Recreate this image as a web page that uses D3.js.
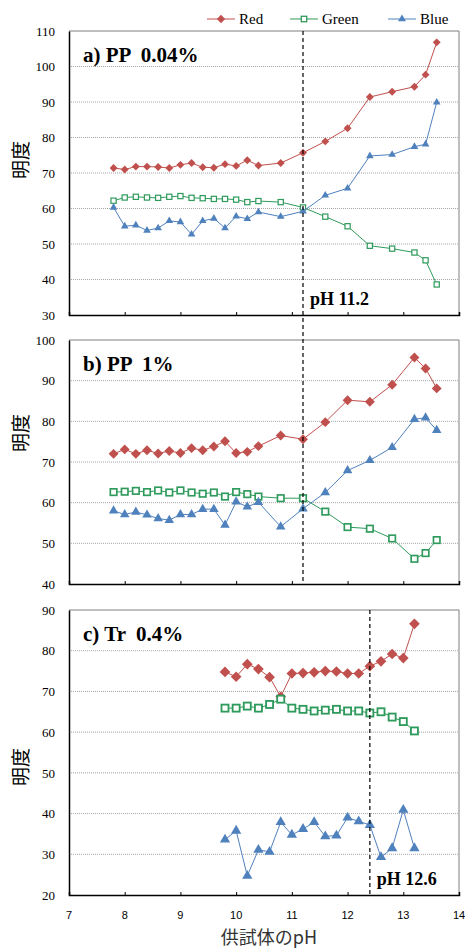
<!DOCTYPE html>
<html>
<head>
<meta charset="utf-8">
<script src="https://cdn.jsdelivr.net/npm/d3@7"></script>
<style>
  body { margin: 0; background: #fff; }
</style>
</head>
<body>
<script>
// pH of the specimens
var phAB = [7.8, 8.0, 8.2, 8.4, 8.6, 8.8, 9.0, 9.2, 9.4, 9.6, 9.8, 10.0, 10.2, 10.4, 10.8, 11.2, 11.6, 12.0, 12.4, 12.8, 13.2, 13.4, 13.6];
var phC = [9.8, 10.0, 10.2, 10.4, 10.6, 10.8, 11.0, 11.2, 11.4, 11.6, 11.8, 12.0, 12.2, 12.4, 12.6, 12.8, 13.0, 13.2];

// a) PP 0.04%
var redA = [71.4, 71.0, 71.8, 71.8, 71.7, 71.4, 72.3, 72.8, 71.6, 71.5, 72.5, 72.0, 73.6, 72.1, 72.8, 75.7, 78.9, 82.6, 91.4, 92.9, 94.3, 97.7, 106.8];
var greenA = [62.2, 63.1, 63.3, 63.1, 63.0, 63.3, 63.5, 63.0, 62.9, 62.7, 62.7, 62.5, 61.8, 62.1, 61.8, 60.3, 57.7, 55.0, 49.5, 48.7, 47.6, 45.4, 38.6];
var blueA = [60.3, 55.0, 55.3, 53.8, 54.5, 56.5, 56.2, 52.7, 56.5, 57.2, 54.5, 57.8, 57.1, 59.0, 57.7, 59.2, 63.7, 65.7, 74.8, 75.2, 77.4, 78.1, 89.9];

// b) PP 1%
var redB = [72.0, 73.1, 72.0, 72.9, 72.1, 72.7, 72.2, 73.4, 72.9, 73.8, 75.1, 72.2, 72.5, 73.9, 76.5, 75.6, 79.8, 85.2, 84.8, 89.0, 95.7, 93.0, 88.1];
var greenB = [62.6, 62.7, 62.9, 62.6, 63.0, 62.5, 63.0, 62.5, 62.2, 62.5, 61.5, 62.6, 62.1, 61.5, 61.1, 61.1, 57.8, 54.0, 53.6, 51.2, 46.2, 47.6, 50.8];
var blueB = [58.0, 57.1, 57.7, 57.0, 56.1, 55.7, 57.1, 57.1, 58.4, 58.4, 54.5, 60.2, 59.0, 60.1, 54.1, 58.5, 62.5, 67.9, 70.4, 73.6, 80.5, 80.9, 77.8];

// c) Tr 0.4%
var redC = [74.8, 73.6, 76.7, 75.5, 73.5, 68.7, 74.4, 74.5, 74.7, 75.0, 74.9, 74.4, 74.4, 76.2, 77.4, 79.2, 78.2, 86.6];
var greenC = [65.9, 65.9, 66.4, 65.9, 66.8, 68.1, 65.9, 65.6, 65.2, 65.4, 65.6, 65.2, 65.2, 64.7, 65.0, 63.7, 62.6, 60.3];
var blueC = [33.6, 35.8, 24.7, 31.1, 30.6, 37.9, 34.8, 36.2, 37.9, 34.4, 34.6, 39.0, 38.1, 37.2, 29.3, 31.5, 40.9, 31.5];

var xTicks = [7, 8, 9, 10, 11, 12, 13, 14];
var yTicksA = [30, 40, 50, 60, 70, 80, 90, 100, 110];
var yTicksB = [40, 50, 60, 70, 80, 90, 100];
var yTicksC = [20, 30, 40, 50, 60, 70, 80, 90];
var seriesNames = ["Red", "Green", "Blue"];

var colors = {Red: "#c0504d", Green: "#2e9a5b", Blue: "#4f81bd"};
var serif = "'Liberation Serif', 'Times New Roman', serif";
var sans = "'Liberation Sans', Arial, sans-serif";
var cjk = "'Noto Sans CJK JP', sans-serif";

var W = 465, H = 948;
var left = 69, right = 459;

var svg = d3.select("body").append("svg")
  .attr("width", W)
  .attr("height", H);

var x = d3.scaleLinear().domain([7, 14]).range([left, right]);

var panels = [
  {title: "a) PP  0.04%", top: 31, bottom: 315, ticks: yTicksA, ph: phAB,
   data: {Red: redA, Green: greenA, Blue: blueA}, mk: 1, labelY: 160},
  {title: "b) PP  1%", top: 340, bottom: 584, ticks: yTicksB, ph: phAB,
   data: {Red: redB, Green: greenB, Blue: blueB}, mk: 1.25, labelY: 433},
  {title: "c) Tr  0.4%", top: 610, bottom: 895, ticks: yTicksC, ph: phC,
   data: {Red: redC, Green: greenC, Blue: blueC}, mk: 1.35, labelY: 767}
];

function marker(g, name, cx, cy, k) {
  if (name === "Red") {
    var s = 5.6 * k;
    g.append("rect")
      .attr("x", -s / 2).attr("y", -s / 2)
      .attr("width", s).attr("height", s)
      .attr("transform", "translate(" + cx + "," + cy + ") rotate(45)")
      .attr("fill", colors.Red);
  } else if (name === "Green") {
    var q = 5.2 * k;
    g.append("rect")
      .attr("x", cx - q / 2).attr("y", cy - q / 2)
      .attr("width", q).attr("height", q)
      .attr("fill", "#fff")
      .attr("stroke", colors.Green)
      .attr("stroke-width", 1.2 + 0.6 * (k - 1) * 3);
  } else {
    var t = 7.6 * k;
    var h = t * Math.sqrt(3) / 2;
    g.append("path")
      .attr("d", "M" + cx + "," + (cy - h * 2 / 3) +
                 "L" + (cx + t / 2) + "," + (cy + h / 3) +
                 "L" + (cx - t / 2) + "," + (cy + h / 3) + "Z")
      .attr("fill", colors.Blue);
  }
}

panels.forEach(function(p) {
  var y = d3.scaleLinear()
    .domain([p.ticks[0], p.ticks[p.ticks.length - 1]])
    .range([p.bottom, p.top]);

  var g = svg.append("g");

  // grid
  g.selectAll(".grid")
    .data(p.ticks.slice(1, -1))
    .enter().append("line")
    .attr("x1", left).attr("x2", right)
    .attr("y1", function(d) { return y(d); })
    .attr("y2", function(d) { return y(d); })
    .attr("stroke", "#a6a6a6")
    .attr("stroke-width", 1)
    .attr("stroke-dasharray", "1,1");

  // frame: top/right light, left/bottom dark
  g.append("path")
    .attr("d", "M" + left + "," + p.top + "H" + right + "V" + p.bottom)
    .attr("fill", "none")
    .attr("stroke", "#7f7f7f")
    .attr("stroke-width", 1);

  var yAxis = g.append("g")
    .attr("transform", "translate(" + left + ",0)")
    .call(d3.axisLeft(y).tickValues(p.ticks).tickSize(0).tickPadding(14).tickFormat(d3.format("d")));
  yAxis.select(".domain").attr("stroke", "#000").attr("stroke-width", 1.5);
  yAxis.selectAll("text")
    .attr("font-family", serif)
    .attr("font-size", 13)
    .attr("fill", "#000");

  var xAxis = g.append("g")
    .attr("transform", "translate(0," + p.bottom + ")")
    .call(d3.axisTop(x).tickValues(xTicks).tickSize(3).tickFormat(""));
  xAxis.select(".domain").attr("stroke", "#000").attr("stroke-width", 1.5);
  xAxis.selectAll(".tick line").attr("stroke", "#000");

  // y title
  g.append("text")
    .attr("transform", "translate(" + 28 + "," + p.labelY + ") rotate(-90)")
    .attr("text-anchor", "middle")
    .attr("font-family", cjk)
    .attr("font-size", 19)
    .attr("fill", "#000")
    .text("明度");

  // series
  seriesNames.forEach(function(name) {
    var vals = p.data[name];
    var pts = vals.map(function(v, i) { return [p.ph[i], v]; });
    var line = d3.line()
      .x(function(d) { return x(d[0]); })
      .y(function(d) { return y(d[1]); });
    g.append("path")
      .datum(pts)
      .attr("d", line)
      .attr("fill", "none")
      .attr("stroke", colors[name])
      .attr("stroke-width", 1);
    var mg = g.append("g");
    pts.forEach(function(d) { marker(mg, name, x(d[0]), y(d[1]), p.mk); });
  });

  // title
  g.append("text")
    .attr("x", 83).attr("y", p.top + 31)
    .attr("font-family", serif)
    .attr("font-weight", "bold")
    .attr("font-size", 21)
    .attr("fill", "#000")
    .style("white-space", "pre")
    .attr("xml:space", "preserve")
    .text(p.title);
});

// threshold lines
var yA = d3.scaleLinear().domain([30, 110]).range([315, 31]);
var yC = d3.scaleLinear().domain([20, 90]).range([895, 610]);
svg.append("line")
  .attr("x1", x(11.2)).attr("x2", x(11.2))
  .attr("y1", 31).attr("y2", 584)
  .attr("stroke", "#000").attr("stroke-width", 1.2)
  .attr("stroke-dasharray", "4,3");
svg.append("text")
  .attr("x", x(11.2) + 7).attr("y", yA(32.8))
  .attr("font-family", serif).attr("font-weight", "bold")
  .attr("font-size", 18).attr("fill", "#000")
  .text("pH 11.2");
svg.append("line")
  .attr("x1", x(12.4)).attr("x2", x(12.4))
  .attr("y1", 610).attr("y2", 895)
  .attr("stroke", "#000").attr("stroke-width", 1.2)
  .attr("stroke-dasharray", "4,3");
svg.append("text")
  .attr("x", x(12.4) + 7).attr("y", yC(22.5))
  .attr("font-family", serif).attr("font-weight", "bold")
  .attr("font-size", 18).attr("fill", "#000")
  .text("pH 12.6");

// bottom axis labels
svg.selectAll(".xlab")
  .data(xTicks)
  .enter().append("text")
  .attr("x", function(d) { return x(d); })
  .attr("y", 919)
  .attr("text-anchor", "middle")
  .attr("font-family", sans)
  .attr("font-size", 11)
  .attr("fill", "#000")
  .text(function(d) { return d; });

svg.append("text")
  .attr("x", 269).attr("y", 944)
  .attr("text-anchor", "middle")
  .attr("font-family", cjk)
  .attr("font-size", 18)
  .attr("fill", "#333")
  .text("供試体のpH");

// legend
var legendX = [207, 290, 388];
var legend = svg.append("g");
seriesNames.forEach(function(name, i) {
  var lx = legendX[i];
  legend.append("line")
    .attr("x1", lx).attr("x2", lx + 28)
    .attr("y1", 19).attr("y2", 19)
    .attr("stroke", colors[name]).attr("stroke-width", 1);
  marker(legend, name, lx + 14, 19, 1.05);
  legend.append("text")
    .attr("x", lx + 32).attr("y", 24)
    .attr("font-family", serif)
    .attr("font-size", 15)
    .attr("fill", "#000")
    .text(name);
});
</script>
</body>
</html>
